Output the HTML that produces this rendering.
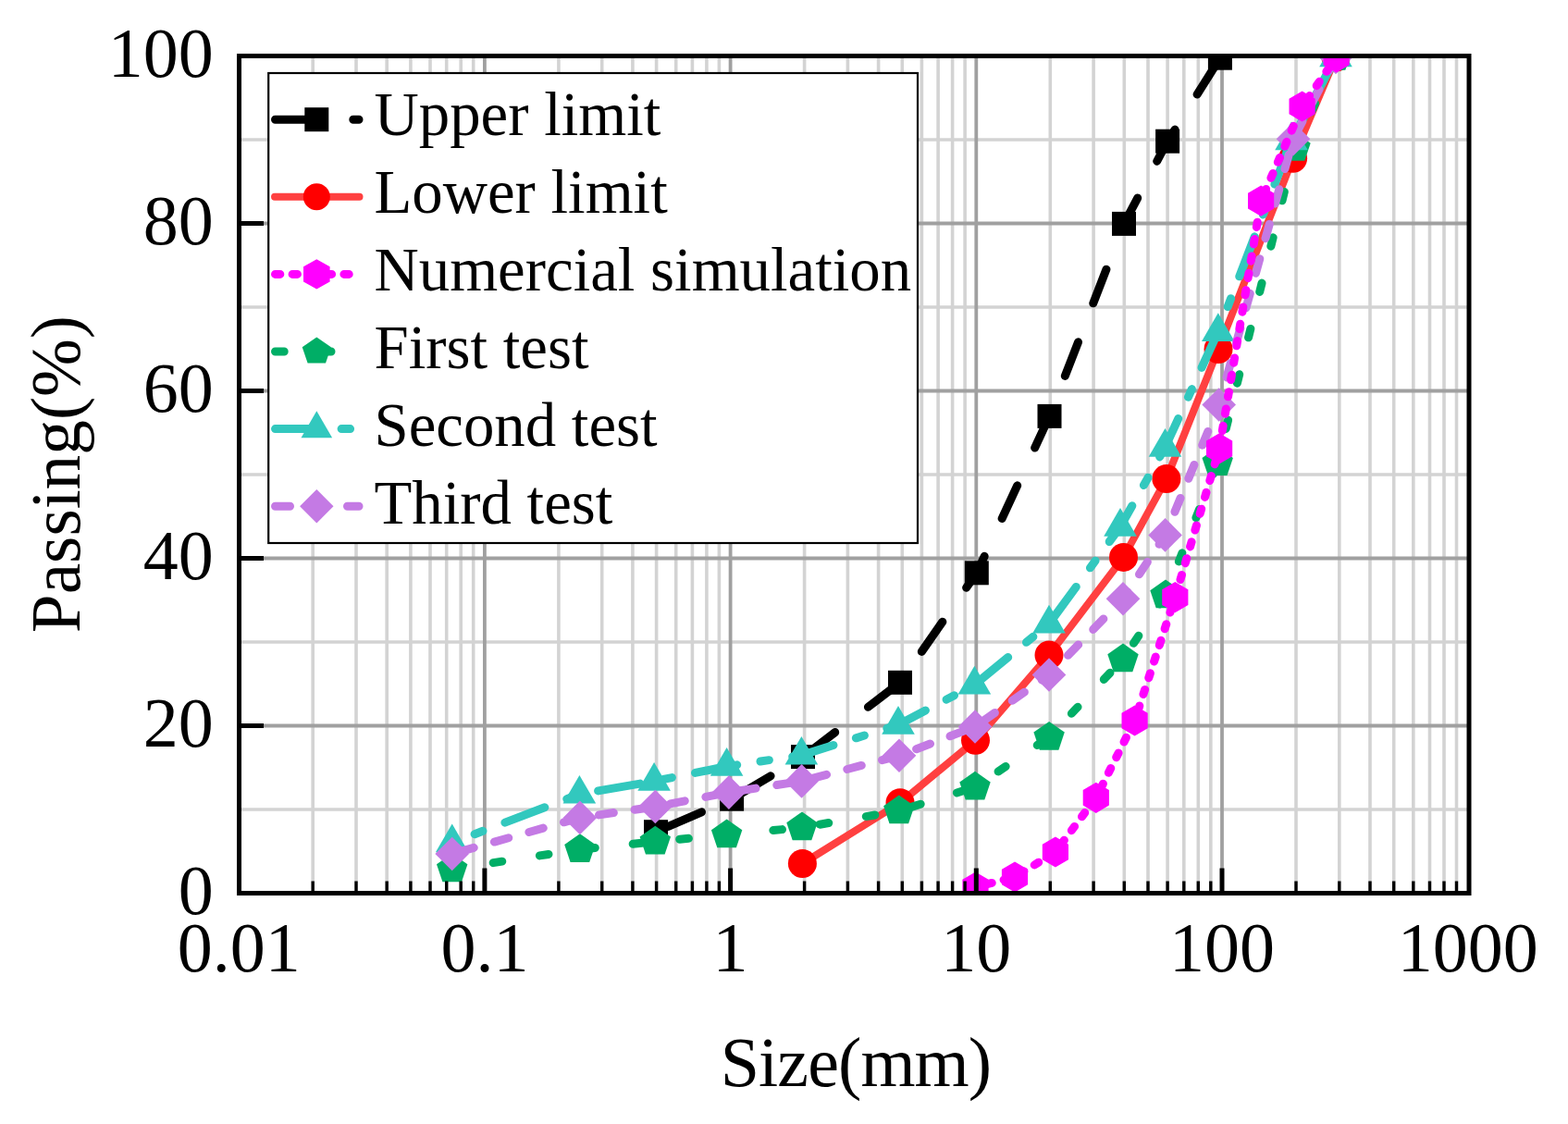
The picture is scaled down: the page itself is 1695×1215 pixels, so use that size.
<!DOCTYPE html>
<html><head><meta charset="utf-8"><style>
html,body{margin:0;padding:0;background:#fff;width:1695px;height:1215px;overflow:hidden}
svg{display:block}
</style></head><body>
<svg width="1695" height="1215" viewBox="0 0 1695 1215"><rect width="1695" height="1215" fill="#fff"/><path d="M338.2 60.5V965.5M385.0 60.5V965.5M418.2 60.5V965.5M443.9 60.5V965.5M465.0 60.5V965.5M482.7 60.5V965.5M498.2 60.5V965.5M511.7 60.5V965.5M603.9 60.5V965.5M650.7 60.5V965.5M683.9 60.5V965.5M709.6 60.5V965.5M730.7 60.5V965.5M748.4 60.5V965.5M763.9 60.5V965.5M777.4 60.5V965.5M869.6 60.5V965.5M916.4 60.5V965.5M949.6 60.5V965.5M975.3 60.5V965.5M996.4 60.5V965.5M1014.1 60.5V965.5M1029.6 60.5V965.5M1043.1 60.5V965.5M1135.3 60.5V965.5M1182.1 60.5V965.5M1215.3 60.5V965.5M1241.0 60.5V965.5M1262.1 60.5V965.5M1279.8 60.5V965.5M1295.3 60.5V965.5M1308.8 60.5V965.5M1401.0 60.5V965.5M1447.8 60.5V965.5M1481.0 60.5V965.5M1506.7 60.5V965.5M1527.8 60.5V965.5M1545.5 60.5V965.5M1561.0 60.5V965.5M1574.5 60.5V965.5M258.5 875.0H1588.0M258.5 694.0H1588.0M258.5 513.0H1588.0M258.5 332.0H1588.0M258.5 151.0H1588.0" stroke="#d3d3d3" stroke-width="3.6" fill="none"/><path d="M523.9 60.5V965.5M789.6 60.5V965.5M1055.3 60.5V965.5M1321.0 60.5V965.5M258.5 784.5H1588.0M258.5 603.5H1588.0M258.5 422.5H1588.0M258.5 241.5H1588.0" stroke="#a0a0a0" stroke-width="3.8" fill="none"/><defs><clipPath id="pc"><rect x="258.5" y="60.5" width="1329.5" height="905.0"/></clipPath></defs><g clip-path="url(#pc)"><path d="M709.0 899.2 L791.1 863.7 L868.0 818.1 L973.0 737.8 L1055.8 619.3 L1134.5 449.9 L1215.0 241.9 L1262.1 152.7 L1318.9 62.7" fill="none" stroke="#000000" stroke-width="9" stroke-linejoin="round" stroke-dasharray="39.3 45" stroke-dashoffset="69.70" stroke-linecap="round"/><rect x="696.0" y="886.2" width="26" height="26" fill="#000000"/><rect x="778.1" y="850.7" width="26" height="26" fill="#000000"/><rect x="855.0" y="805.1" width="26" height="26" fill="#000000"/><rect x="960.0" y="724.8" width="26" height="26" fill="#000000"/><rect x="1042.8" y="606.3" width="26" height="26" fill="#000000"/><rect x="1121.5" y="436.9" width="26" height="26" fill="#000000"/><rect x="1202.0" y="228.9" width="26" height="26" fill="#000000"/><rect x="1249.1" y="139.7" width="26" height="26" fill="#000000"/><rect x="1305.9" y="49.7" width="26" height="26" fill="#000000"/><path d="M867.4 933.5 L973.0 867.8 L1054.5 800.3 L1134.0 708.1 L1214.5 602.4 L1260.9 517.6 L1317.0 377.5 L1397.6 171.2 L1444.0 62.0" fill="none" stroke="#ff4040" stroke-width="8" stroke-linejoin="round" stroke-linecap="round"/><circle cx="867.4" cy="933.5" r="15.5" fill="#ff0000"/><circle cx="973.0" cy="867.8" r="15.5" fill="#ff0000"/><circle cx="1054.5" cy="800.3" r="15.5" fill="#ff0000"/><circle cx="1134.0" cy="708.1" r="15.5" fill="#ff0000"/><circle cx="1214.5" cy="602.4" r="15.5" fill="#ff0000"/><circle cx="1260.9" cy="517.6" r="15.5" fill="#ff0000"/><circle cx="1317.0" cy="377.5" r="15.5" fill="#ff0000"/><circle cx="1397.6" cy="171.2" r="15.5" fill="#ff0000"/><circle cx="1444.0" cy="62.0" r="15.5" fill="#ff0000"/><path d="M488.7 939.5 L626.9 918.2 L708.3 909.7 L785.6 902.5 L867.0 894.5 L971.8 876.5 L1054.0 850.8 L1134.1 796.9 L1214.0 712.5 L1260.0 643.5 L1316.2 500.2 L1400.0 160.0 L1444.0 62.0" fill="none" stroke="#00ae66" stroke-width="9" stroke-linejoin="round" stroke-dasharray="9.7 41.1" stroke-dashoffset="5.80" stroke-linecap="round"/><polygon points="488.7,922.5 505.4,934.2 499.0,953.3 478.4,953.3 472.0,934.2" fill="#00ae66"/><polygon points="626.9,901.2 643.6,912.9 637.2,932.0 616.6,932.0 610.2,912.9" fill="#00ae66"/><polygon points="708.3,892.7 725.0,904.4 718.6,923.5 698.0,923.5 691.6,904.4" fill="#00ae66"/><polygon points="785.6,885.5 802.3,897.2 795.9,916.3 775.3,916.3 768.9,897.2" fill="#00ae66"/><polygon points="867.0,877.5 883.7,889.2 877.3,908.3 856.7,908.3 850.3,889.2" fill="#00ae66"/><polygon points="971.8,859.5 988.5,871.2 982.1,890.3 961.5,890.3 955.1,871.2" fill="#00ae66"/><polygon points="1054.0,833.8 1070.7,845.5 1064.3,864.6 1043.7,864.6 1037.3,845.5" fill="#00ae66"/><polygon points="1134.1,779.9 1150.8,791.6 1144.4,810.7 1123.8,810.7 1117.4,791.6" fill="#00ae66"/><polygon points="1214.0,695.5 1230.7,707.2 1224.3,726.3 1203.7,726.3 1197.3,707.2" fill="#00ae66"/><polygon points="1260.0,626.5 1276.7,638.2 1270.3,657.3 1249.7,657.3 1243.3,638.2" fill="#00ae66"/><polygon points="1316.2,483.2 1332.9,494.9 1326.5,514.0 1305.9,514.0 1299.5,494.9" fill="#00ae66"/><polygon points="1400.0,143.0 1416.7,154.7 1410.3,173.8 1389.7,173.8 1383.3,154.7" fill="#00ae66"/><polygon points="1444.0,45.0 1460.7,56.7 1454.3,75.8 1433.7,75.8 1427.3,56.7" fill="#00ae66"/><path d="M488.7 911.0 L626.4 858.4 L707.1 844.5 L785.6 828.5 L866.4 816.4 L971.0 783.5 L1053.4 740.2 L1134.0 674.3 L1211.0 569.5 L1259.5 483.5 L1316.8 358.7 L1396.0 152.0 L1444.0 62.0" fill="none" stroke="#32c8be" stroke-width="9" stroke-linejoin="round" stroke-dasharray="46 25.6 9.5 25.6" stroke-dashoffset="45.49" stroke-linecap="round"/><polygon points="488.7,890.5 506.5,921.2 470.9,921.2" fill="#32c8be"/><polygon points="626.4,837.9 644.2,868.6 608.6,868.6" fill="#32c8be"/><polygon points="707.1,824.0 724.9,854.8 689.3,854.8" fill="#32c8be"/><polygon points="785.6,808.0 803.4,838.8 767.8,838.8" fill="#32c8be"/><polygon points="866.4,795.9 884.2,826.6 848.6,826.6" fill="#32c8be"/><polygon points="971.0,763.0 988.8,793.8 953.2,793.8" fill="#32c8be"/><polygon points="1053.4,719.7 1071.2,750.5 1035.6,750.5" fill="#32c8be"/><polygon points="1134.0,653.8 1151.8,684.5 1116.2,684.5" fill="#32c8be"/><polygon points="1211.0,549.0 1228.8,579.8 1193.2,579.8" fill="#32c8be"/><polygon points="1259.5,463.0 1277.3,493.8 1241.7,493.8" fill="#32c8be"/><polygon points="1316.8,338.2 1334.6,368.9 1299.0,368.9" fill="#32c8be"/><polygon points="1396.0,131.5 1413.8,162.2 1378.2,162.2" fill="#32c8be"/><polygon points="1444.0,41.5 1461.8,72.2 1426.2,72.2" fill="#32c8be"/><path d="M488.7 923.0 L626.9 883.9 L708.3 872.0 L787.9 856.6 L866.6 844.4 L972.0 816.8 L1054.0 785.5 L1134.0 729.5 L1214.0 647.2 L1259.6 578.4 L1317.7 437.5 L1398.0 150.2 L1444.0 62.0" fill="none" stroke="#c47ae4" stroke-width="9" stroke-linejoin="round" stroke-dasharray="16 23" stroke-dashoffset="30.55" stroke-linecap="round"/><polygon points="488.7,904.7 507.0,923.0 488.7,941.3 470.4,923.0" fill="#c47ae4"/><polygon points="626.9,865.6 645.2,883.9 626.9,902.2 608.6,883.9" fill="#c47ae4"/><polygon points="708.3,853.7 726.6,872.0 708.3,890.3 690.0,872.0" fill="#c47ae4"/><polygon points="787.9,838.3 806.2,856.6 787.9,874.9 769.6,856.6" fill="#c47ae4"/><polygon points="866.6,826.1 884.9,844.4 866.6,862.7 848.3,844.4" fill="#c47ae4"/><polygon points="972.0,798.5 990.3,816.8 972.0,835.1 953.7,816.8" fill="#c47ae4"/><polygon points="1054.0,767.2 1072.3,785.5 1054.0,803.8 1035.7,785.5" fill="#c47ae4"/><polygon points="1134.0,711.2 1152.3,729.5 1134.0,747.8 1115.7,729.5" fill="#c47ae4"/><polygon points="1214.0,628.9 1232.3,647.2 1214.0,665.5 1195.7,647.2" fill="#c47ae4"/><polygon points="1259.6,560.1 1277.9,578.4 1259.6,596.7 1241.3,578.4" fill="#c47ae4"/><polygon points="1317.7,419.2 1336.0,437.5 1317.7,455.8 1299.4,437.5" fill="#c47ae4"/><polygon points="1398.0,131.9 1416.3,150.2 1398.0,168.5 1379.7,150.2" fill="#c47ae4"/><polygon points="1444.0,43.7 1462.3,62.0 1444.0,80.3 1425.7,62.0" fill="#c47ae4"/><path d="M1054.5 959.0 L1097.0 948.0 L1140.9 921.0 L1184.8 862.3 L1226.6 779.0 L1270.3 645.6 L1318.1 484.9 L1363.1 217.1 L1407.6 115.0 L1444.6 62.0" fill="none" stroke="#ff00ff" stroke-width="9" stroke-linejoin="round" stroke-dasharray="5.3 13.3" stroke-dashoffset="5.61" stroke-linecap="round"/><polygon points="1054.5,942.4 1068.6,950.7 1068.6,967.3 1054.5,975.6 1040.4,967.3 1040.4,950.7" fill="#ff00ff"/><polygon points="1097.0,931.4 1111.1,939.7 1111.1,956.3 1097.0,964.6 1082.9,956.3 1082.9,939.7" fill="#ff00ff"/><polygon points="1140.9,904.4 1155.0,912.7 1155.0,929.3 1140.9,937.6 1126.8,929.3 1126.8,912.7" fill="#ff00ff"/><polygon points="1184.8,845.7 1198.9,854.0 1198.9,870.6 1184.8,878.9 1170.7,870.6 1170.7,854.0" fill="#ff00ff"/><polygon points="1226.6,762.4 1240.7,770.7 1240.7,787.3 1226.6,795.6 1212.5,787.3 1212.5,770.7" fill="#ff00ff"/><polygon points="1270.3,629.0 1284.4,637.3 1284.4,653.9 1270.3,662.2 1256.2,653.9 1256.2,637.3" fill="#ff00ff"/><polygon points="1318.1,468.3 1332.2,476.6 1332.2,493.2 1318.1,501.5 1304.0,493.2 1304.0,476.6" fill="#ff00ff"/><polygon points="1363.1,200.5 1377.2,208.8 1377.2,225.4 1363.1,233.7 1349.0,225.4 1349.0,208.8" fill="#ff00ff"/><polygon points="1407.6,98.4 1421.7,106.7 1421.7,123.3 1407.6,131.6 1393.5,123.3 1393.5,106.7" fill="#ff00ff"/><polygon points="1444.6,45.4 1458.7,53.7 1458.7,70.3 1444.6,78.6 1430.5,70.3 1430.5,53.7" fill="#ff00ff"/></g><rect x="290.2" y="79" width="701.8" height="508" fill="#fff" stroke="#000" stroke-width="2.2"/><path d="M297.5 129.2H388.0" fill="none" stroke="#000000" stroke-width="9" stroke-dasharray="39.3 45" stroke-linecap="round"/><rect x="329.3" y="116.2" width="26" height="26" fill="#000000"/><text x="404.5" y="146.3" font-family="Liberation Serif, serif" font-size="66.8" fill="#000">Upper limit</text><path d="M297.0 212.8H388.5" fill="none" stroke="#ff4040" stroke-width="8" stroke-linecap="round"/><circle cx="342.3" cy="212.8" r="14.5" fill="#ff0000"/><text x="404.5" y="230.2" font-family="Liberation Serif, serif" font-size="66.8" fill="#000">Lower limit</text><path d="M297.5 296.4H388.0" fill="none" stroke="#ff00ff" stroke-width="9" stroke-dasharray="5.3 13.3" stroke-linecap="round"/><polygon points="342.3,280.2 356.6,288.3 356.6,304.5 342.3,312.6 328.0,304.5 328.0,288.3" fill="#ff00ff"/><text x="404.5" y="314.1" font-family="Liberation Serif, serif" font-size="66.8" fill="#000">Numercial simulation</text><path d="M297.5 380.0H388.0" fill="none" stroke="#00ae66" stroke-width="9" stroke-dasharray="9.7 41.1" stroke-linecap="round"/><polygon points="342.3,364.5 357.9,375.2 352.0,392.5 332.6,392.5 326.7,375.2" fill="#00ae66"/><text x="404.5" y="398.0" font-family="Liberation Serif, serif" font-size="66.8" fill="#000">First test</text><path d="M297.5 463.6H388.0" fill="none" stroke="#32c8be" stroke-width="9" stroke-dasharray="46 25.6 9.5 25.6" stroke-linecap="round"/><polygon points="342.3,444.2 359.1,473.3 325.5,473.3" fill="#32c8be"/><text x="404.5" y="481.9" font-family="Liberation Serif, serif" font-size="66.8" fill="#000">Second test</text><path d="M297.5 547.2H388.0" fill="none" stroke="#c47ae4" stroke-width="9" stroke-dasharray="16 23" stroke-linecap="round"/><polygon points="342.3,529.0 360.5,547.2 342.3,565.4 324.1,547.2" fill="#c47ae4"/><text x="404.5" y="565.8" font-family="Liberation Serif, serif" font-size="66.8" fill="#000">Third test</text><path d="M523.9 965.5V938.5M789.6 965.5V938.5M1055.3 965.5V938.5M1321.0 965.5V938.5" stroke="#000" stroke-width="5" fill="none"/><path d="M338.2 965.5V952.5M385.0 965.5V952.5M418.2 965.5V952.5M443.9 965.5V952.5M465.0 965.5V952.5M482.7 965.5V952.5M498.2 965.5V952.5M511.7 965.5V952.5M603.9 965.5V952.5M650.7 965.5V952.5M683.9 965.5V952.5M709.6 965.5V952.5M730.7 965.5V952.5M748.4 965.5V952.5M763.9 965.5V952.5M777.4 965.5V952.5M869.6 965.5V952.5M916.4 965.5V952.5M949.6 965.5V952.5M975.3 965.5V952.5M996.4 965.5V952.5M1014.1 965.5V952.5M1029.6 965.5V952.5M1043.1 965.5V952.5M1135.3 965.5V952.5M1182.1 965.5V952.5M1215.3 965.5V952.5M1241.0 965.5V952.5M1262.1 965.5V952.5M1279.8 965.5V952.5M1295.3 965.5V952.5M1308.8 965.5V952.5M1401.0 965.5V952.5M1447.8 965.5V952.5M1481.0 965.5V952.5M1506.7 965.5V952.5M1527.8 965.5V952.5M1545.5 965.5V952.5M1561.0 965.5V952.5M1574.5 965.5V952.5" stroke="#000" stroke-width="3.4" fill="none"/><path d="M258.5 965.5H285.0M258.5 784.5H285.0M258.5 603.5H285.0M258.5 422.5H285.0M258.5 241.5H285.0M258.5 60.5H285.0" stroke="#000" stroke-width="5" fill="none"/><rect x="258.5" y="60.5" width="1329.5" height="905.0" fill="none" stroke="#000" stroke-width="5"/><text x="230.7" y="987.7" text-anchor="end" font-family="Liberation Serif, serif" font-size="76" fill="#000">0</text><text x="230.7" y="806.7" text-anchor="end" font-family="Liberation Serif, serif" font-size="76" fill="#000">20</text><text x="230.7" y="625.7" text-anchor="end" font-family="Liberation Serif, serif" font-size="76" fill="#000">40</text><text x="230.7" y="444.7" text-anchor="end" font-family="Liberation Serif, serif" font-size="76" fill="#000">60</text><text x="230.7" y="263.7" text-anchor="end" font-family="Liberation Serif, serif" font-size="76" fill="#000">80</text><text x="230.7" y="82.7" text-anchor="end" font-family="Liberation Serif, serif" font-size="76" fill="#000">100</text><text x="258.2" y="1049.7" text-anchor="middle" font-family="Liberation Serif, serif" font-size="76" fill="#000">0.01</text><text x="523.9" y="1049.7" text-anchor="middle" font-family="Liberation Serif, serif" font-size="76" fill="#000">0.1</text><text x="789.6" y="1049.7" text-anchor="middle" font-family="Liberation Serif, serif" font-size="76" fill="#000">1</text><text x="1055.3" y="1049.7" text-anchor="middle" font-family="Liberation Serif, serif" font-size="76" fill="#000">10</text><text x="1321.0" y="1049.7" text-anchor="middle" font-family="Liberation Serif, serif" font-size="76" fill="#000">100</text><text x="1586.7" y="1049.7" text-anchor="middle" font-family="Liberation Serif, serif" font-size="76" fill="#000">1000</text><text x="925" y="1173.8" text-anchor="middle" font-family="Liberation Serif, serif" font-size="76" letter-spacing="-0.9" fill="#000">Size(mm)</text><text transform="translate(86.2 512.7) rotate(-90)" x="0" y="0" text-anchor="middle" font-family="Liberation Serif, serif" font-size="75.3" fill="#000">Passing(%)</text></svg>
</body></html>
